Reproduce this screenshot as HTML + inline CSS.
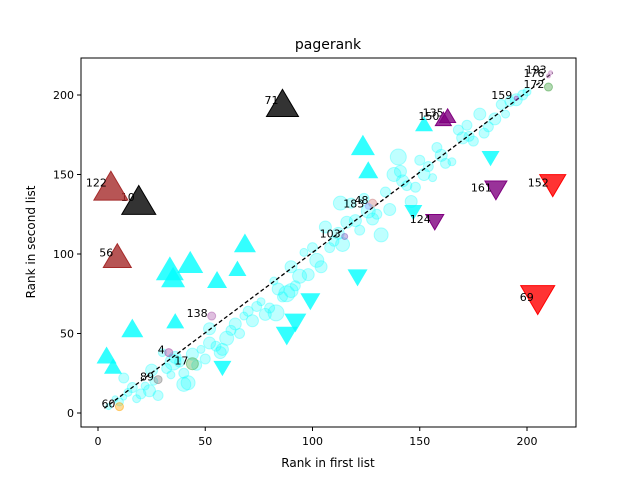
<!DOCTYPE html>
<html><head><meta charset="utf-8"><style>
body{margin:0;background:#fff;font-family:"Liberation Sans","DejaVu Sans",sans-serif}
</style></head><body>
<svg id="chart" width="640" height="480" xmlns="http://www.w3.org/2000/svg" font-family="DejaVu Sans, Liberation Sans, sans-serif">
<rect width="640" height="480" fill="#fff"/>
<text x="328" y="49" text-anchor="middle" font-size="14">pagerank</text>
<g id="plot"></g>
<rect x="81" y="58" width="495" height="369" fill="none" stroke="#000" stroke-width="1"/>
<text x="328" y="467" text-anchor="middle" font-size="12">Rank in first list</text>
<text transform="translate(35,242) rotate(-90)" text-anchor="middle" font-size="12">Rank in second list</text>
</svg>
<script>
const xTicks=[0,50,100,150,200];
const yTicks=[0,50,100,150,200];
// small cyan circles: x, y, radius
const circX=[5,8,10,12,14,16,18,20,22,24,26,28,30,32,34,36,38,40,42,44,46,48,50,52,55,57,60,62,64,66,68,70,72,74,76,78,80,82,84,86,88,90,92,94,96,98,100,102,104,106,108,110,112,114,116,118,120,122,124,126,128,130,132,134,136,138,140,142,144,146,148,150,152,154,156,158,160,162,165,168,170,172,175,178,180,182,185,188,190,192,195,198,200,12,25,40,58,83,113,141,173,35,52,90];
const circY=[4,9,7,10,13,16,9,12,17,14,20,11,38,28,24,35,32,25,19,37,30,40,34,44,42,38,47,52,56,50,61,64,58,67,70,62,66,83,78,73,75,92,80,86,101,87,104,96,92,117,104,108,113,106,120,132,121,115,135,127,122,125,112,139,128,150,161,146,143,133,142,159,150,155,148,167,162,157,158,178,173,181,171,188,176,180,185,194,188,196,197,200,202,22,27,18,40,63,132,152,174,32,53,77];
const circR=[3,3,4,3,4,5,4,5,4,6,4,5,4,5,4,6,5,5,7,6,5,4,5,6,5,6,7,5,6,5,4,5,6,5,4,6,5,4,6,5,8,6,5,7,4,6,5,7,6,6,5,5,6,7,6,5,6,5,5,7,6,5,7,5,6,7,8,6,5,6,5,5,6,5,4,5,6,5,4,5,6,5,5,6,5,5,6,5,4,5,6,5,4,5,6,7,6,8,7,6,5,8,6,7];
// cyan triangles up / down
const upX=[123.5,126,152,68.5,65,55.5,43,35,33.5,36,16,4,7];
const upY=[168.6,153,182,107,91,84,95,85.5,91,58,53.5,36.5,29.5];
const upS=[12,10,9,11,9,10,13,12,14,9,11,10,9];
const dnX=[121,99,92,88,58,147,183];
const dnY=[85,70,56.6,48.4,28,126,160];
const dnS=[10,10,11,11,9,9,9];
// labelled points
const labNames=["71","10","122","56","69","152","161","124","135","150","138","4","17","89","60","103","48","183","193","176","172","159"];
const labX=[86,19,6,9,205,212,185.5,157,163,161,53,33,44,28,10,115,128,126,211,210,210,195];
const labY=[195,134,143,99,71,143,140,120,187,185,61,38,31,21,4,111,132,130,214,212,205,198];
const labShape=["up","up","up","up","dn","dn","dn","dn","up","up","c","c","c","c","c","c","c","c","c","c","c","c"];
const labSize=[16,17,17,14,17,13,11,9,8,8,4,4,6,4,4,3,4,3,2,2,4,2];
const labColor=["#000","#000","#a52a2a","#a52a2a","#ff0000","#ff0000","#800080","#800080","#800080","#800080","#b060b0","#a040a0","#4caf50","#808080","#ffa500","#8060c0","#d08080","#a0a0ff","#c080c0","#c080c0","#40a040","#a040c0"];

const sx=v=>98+v*2.145, sy=v=>413-v*1.59;
const NS="http://www.w3.org/2000/svg";
const plot=document.getElementById('plot');
function mk(tag,attrs){const e=document.createElementNS(NS,tag);for(const k in attrs)e.setAttribute(k,attrs[k]);plot.appendChild(e);return e;}
function tri(x,y,s,up){const h=s*1.7;return up?`${x-s},${y+h/2} ${x+s},${y+h/2} ${x},${y-h/2}`:`${x-s},${y-h/2} ${x+s},${y-h/2} ${x},${y+h/2}`;}
// ticks
xTicks.forEach(t=>{const x=sx(t);
 const l=mk('line',{x1:x,y1:427,x2:x,y2:431,stroke:'#000'});
 
 
 const tx=mk('text',{x:x,y:445,'text-anchor':'middle','font-size':11});tx.textContent=t;
 
 });
yTicks.forEach(t=>{const y=sy(t);
 const l=mk('line',{x1:77,y1:y,x2:81,y2:y,stroke:'#000'});
 
 
 const tx=mk('text',{x:74,y:y+4,'text-anchor':'end','font-size':11});tx.textContent=t;
 
 });
circX.forEach((v,i)=>{const c=mk('circle',{cx:sx(v),cy:sy(circY[i]),r:circR[i],fill:'#00ffff','fill-opacity':0.25,stroke:'#00ffff','stroke-opacity':0.3});
 
 });
upX.forEach((v,i)=>{const p=mk('polygon',{points:tri(sx(v),sy(upY[i]),upS[i],true),fill:'#00ffff','fill-opacity':0.8});
 
 });
dnX.forEach((v,i)=>{const p=mk('polygon',{points:tri(sx(v),sy(dnY[i]),dnS[i],false),fill:'#00ffff','fill-opacity':0.8});
 
 });
const d=mk('line',{x1:sx(3),y1:sy(3),x2:sx(212),y2:sy(214),stroke:'#000','stroke-width':1.3,'stroke-dasharray':'4,2.5'});


labNames.forEach((n,i)=>{const x=sx(labX[i]),y=sy(labY[i]),s=labSize[i];let e;
 if(labShape[i]==='c')e=mk('circle',{cx:x,cy:y,r:s,fill:labColor[i],'fill-opacity':0.4,stroke:labColor[i],'stroke-opacity':0.5});
 else e=mk('polygon',{points:tri(x,y,s,labShape[i]==='up'),fill:labColor[i],'fill-opacity':0.8,stroke:labColor[i]});
 
 
 const t=mk('text',{x:x-4,y:y+1,'text-anchor':'end','font-size':11});t.textContent=n;
 
 });
</script>
</body></html>
